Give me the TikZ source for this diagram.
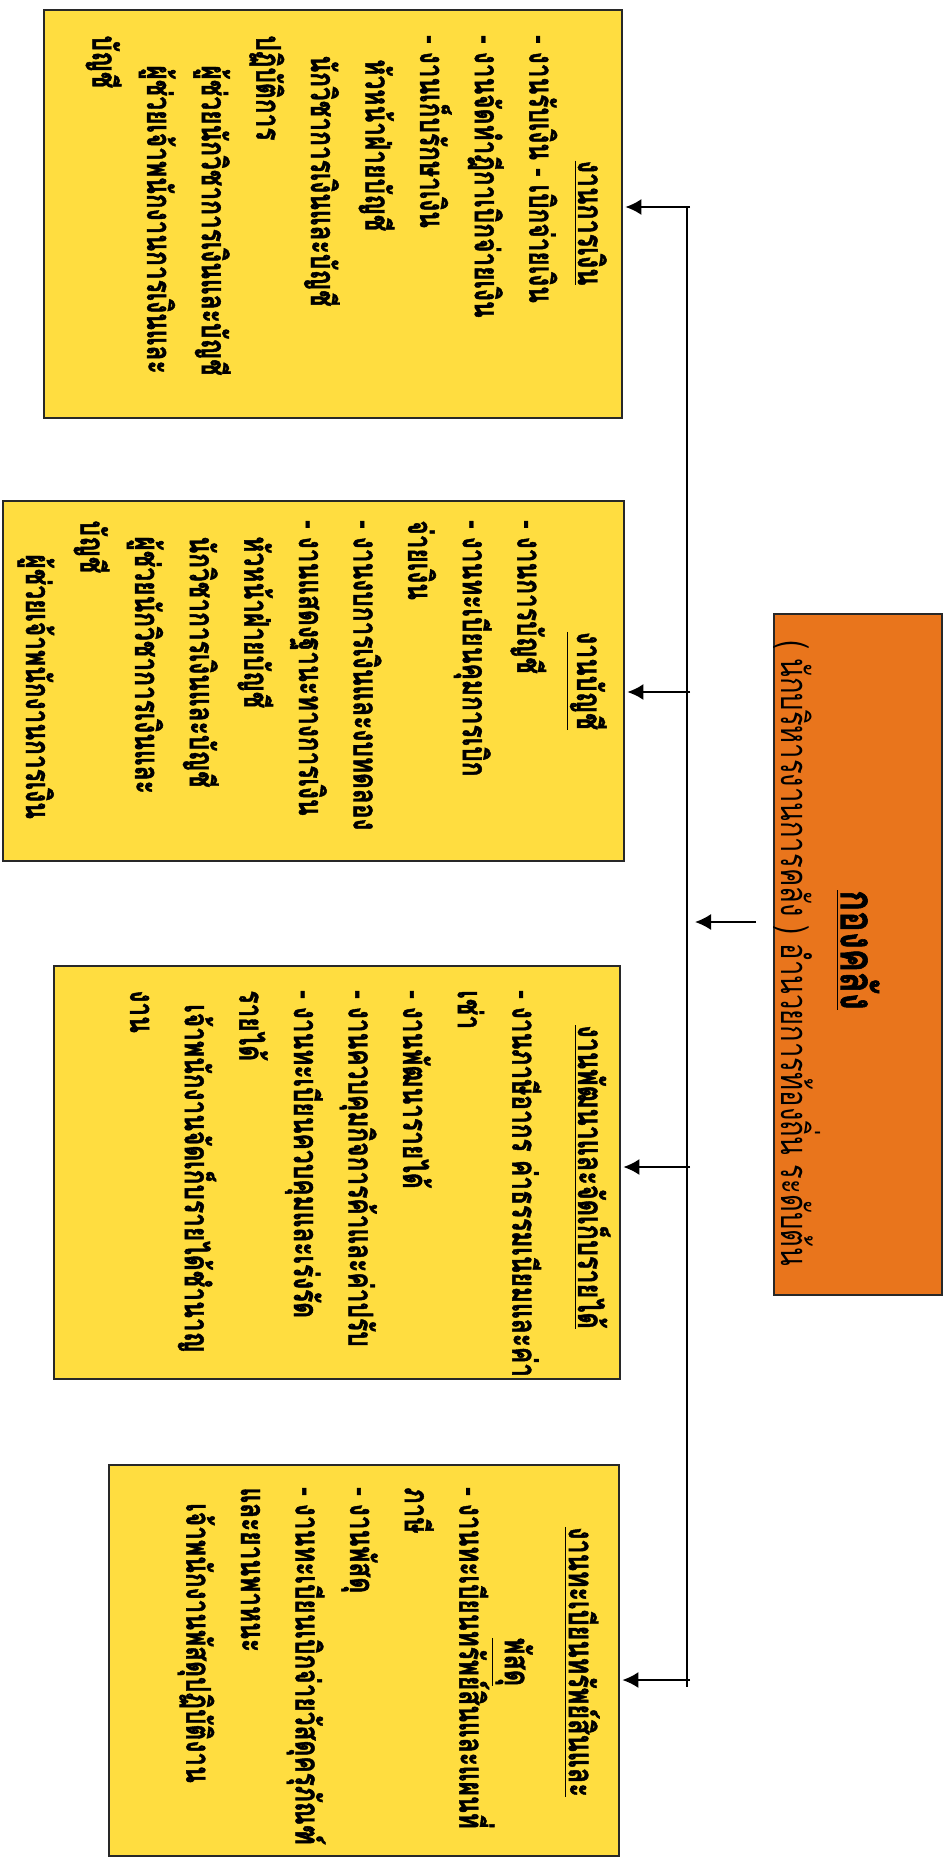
\documentclass[tikz,border=0pt]{standalone}
\usepackage{fontspec}
\newfontfamily\thaifont[Script=Thai,FakeStretch=0.72,BoldFeatures={FakeBold=1.2}]{Loma}
\usetikzlibrary{arrows.meta}

\definecolor{cellyellow}{RGB}{255,221,64}
\definecolor{headorange}{RGB}{233,117,28}
\definecolor{edgegray}{RGB}{40,40,40}

\tikzset{
  unit/.style={draw=edgegray, line width=1.2pt, fill=cellyellow, inner sep=0pt, anchor=north west},
  duty/.style={rotate=-90, anchor=north west, align=left, inner sep=0pt,
    font=\thaifont\bfseries\fontsize{17}{27.3}\selectfont},
  unittitle/.style={rotate=-90, anchor=base, align=center, inner sep=0pt,
    font=\thaifont\bfseries\fontsize{17.5}{32}\selectfont},
  link/.style={line width=0.9pt, shorten >=1pt, -{Latex[length=8pt,width=8pt]}},
}

\begin{document}
\begin{tikzpicture}[x=0.5pt,y=-0.5pt]
  \useasboundingbox (0,0) rectangle (950,1862);
  % head of the division
  \node[unit, fill=headorange, minimum width=84pt, minimum height=340.5pt] (head) at (773,613) {};
  \node[rotate=-90, inner sep=0pt, font=\thaifont\bfseries\fontsize{24}{28}\selectfont] (headname) at (858,950) {\underline{กองคลัง}};
  \node[rotate=-90, inner sep=0pt, font=\thaifont\fontsize{19}{21}\selectfont] (headrank) at (797,953) {( นักบริหารงานการคลัง ) อำนวยการท้องถิ่น ระดับต้น};

  % section boxes
  \node[unit, minimum width=289pt, minimum height=204pt] (fin) at (43,9) {};
  \node[unit, minimum width=310.5pt, minimum height=180pt] (acc) at (2,500) {};
  \node[unit, minimum width=283pt, minimum height=206.5pt] (rev) at (53,965) {};
  \node[unit, minimum width=255pt, minimum height=195.5pt] (asset) at (108,1464) {};

  % titles
  \node[unittitle] (fintitle) at (578,223) {\underline{งานการเงิน}};
  \node[unittitle] (acctitle) at (577,681) {\underline{งานบัญชี}};
  \node[unittitle] (revtitle) at (578,1177) {\underline{งานพัฒนาและจัดเก็บรายได้}};
  \node[unittitle, anchor=north] (assettitle) at (614,1662)
    {\strut\underline{งานทะเบียนทรัพย์สินและ}\\\underline{พัสดุ}};

  % duties
  \node[duty] (finlist) at (568,35) {\strut- งานรับเงิน - เบิกจ่ายเงิน\\
    - งานจัดทำฎีกาเบิกจ่ายเงิน\\
    - งานเก็บรักษาเงิน\\
    \hspace*{12pt}หัวหน้าฝ่ายบัญชี\\
    \hspace*{10pt}นักวิชาการเงินและบัญชี\\
    ปฏิบัติการ\\
    \hspace*{15pt}ผู้ช่วยนักวิชาการเงินและบัญชี\\
    \hspace*{15pt}ผู้ช่วยเจ้าพนักงานการเงินและ\\
    บัญชี};
  \node[duty] (acclist) at (556,520) {\strut- งานการบัญชี\\
    - งานทะเบียนคุมการเบิก\\
    จ่ายเงิน\\
    - งานงบการเงินและงบทดลอง\\
    - งานแสดงฐานะทางการเงิน\\
    \hspace*{8pt}หัวหน้าฝ่ายบัญชี\\
    \hspace*{8pt}นักวิชาการเงินและบัญชี\\
    \hspace*{8pt}ผู้ช่วยนักวิชาการเงินและ\\
    บัญชี\\
    \hspace*{17pt}ผู้ช่วยเจ้าพนักงานการเงิน};
  \node[duty] (revlist) at (551,990) {\strut- งานภาษีอากร ค่าธรรมเนียมและค่า\\
    เช่า\\
    - งานพัฒนารายได้\\
    - งานควบคุมกิจการค้าและค่าปรับ\\
    - งานทะเบียนควบคุมและเร่งรัด\\
    รายได้\\
    \hspace*{7pt}เจ้าพนักงานจัดเก็บรายได้ชำนาญ\\
    งาน};
  \node[duty] (assetlist) at (498,1487) {\strut- งานทะเบียนทรัพย์สินและแผนที่\\
    ภาษี\\
    - งานพัสดุ\\
    - งานทะเบียนเบิกจ่ายวัสดุครุภัณฑ์\\
    และยานพาหนะ\\
    \hspace*{8pt}เจ้าพนักงานพัสดุปฏิบัติงาน};

  % connectors
  \coordinate (vtop) at (687,207);
  \coordinate (vbot) at (687,1687);
  \coordinate (hin) at (756,922);
  \draw[line width=1.2pt] (vtop) -- (vbot);
  \foreach \sec/\yy in {fin/207,acc/692,rev/1167,asset/1680}{
    \coordinate (br-\sec) at (690,\yy);
    \draw[link] (br-\sec) -- (br-\sec -| \sec.east);
  }
  \draw[link, shorten >=4pt] (hin) -- (hin -| vtop);
\end{tikzpicture}
\end{document}
